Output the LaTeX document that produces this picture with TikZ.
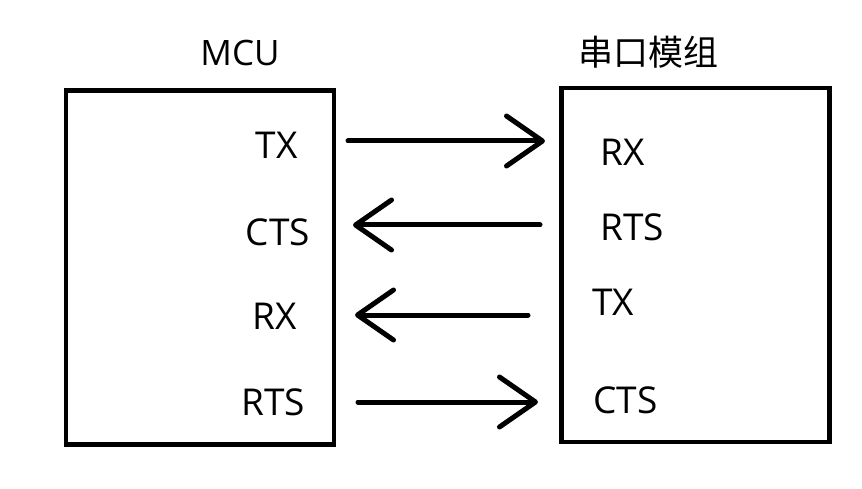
\documentclass[tikz,border=0pt]{standalone}
\usepackage{fontspec}
\setmainfont{Open Sans}
\newfontfamily\cjk{Noto Sans CJK SC}
\usetikzlibrary{arrows.meta}

\begin{document}
\begin{tikzpicture}[x=1pt, y=-1pt,
  chip/.style={draw, line width=4.5pt, minimum width=268pt,
    minimum height=354pt, inner sep=0pt},
  title/.style={font=\fontsize{35}{40}\selectfont, inner sep=0pt},
  pin/.style={font=\fontsize{37}{42}\selectfont, inner sep=0pt},
  sig/.style={line width=5pt, line cap=round,
    -{Straight Barb[length=36pt, width=50pt, line cap=round, line join=round]}}
]
  \useasboundingbox (0,0) rectangle (862,489);
  \node[chip] (mcu) at (200, 267.5) {};
  \node[chip] (uart) at (695.5, 265) {};
  \node[title] (mcutitle) at (240, 53) {MCU};
  \node[title] (uarttitle) at (648, 52) {\cjk\fontsize{35}{40}\selectfont 串口模组};
  \node[pin, anchor=east] (mtx) at (298, 145) {TX};
  \node[pin, anchor=east] (mcts) at (310, 232) {CTS};
  \node[pin, anchor=east] (mrx) at (297, 316) {RX};
  \node[pin, anchor=east] (mrts) at (305, 402) {RTS};
  \node[pin, anchor=west] (urx) at (600, 152) {RX};
  \node[pin, anchor=west] (urts) at (600, 227) {RTS};
  \node[pin, anchor=west] (utx) at (592, 302) {TX};
  \node[pin, anchor=west] (ucts) at (593, 400) {CTS};
  \coordinate (a1) at (348, 141);
  \coordinate (b1) at (545, 141);
  \coordinate (a2) at (540, 225);
  \coordinate (b2) at (353, 225);
  \coordinate (a3) at (528, 315);
  \coordinate (b3) at (355, 315);
  \coordinate (a4) at (358, 402);
  \coordinate (b4) at (538, 402);
  \draw[sig] (a1) -- (b1);
  \draw[sig] (a2) -- (b2);
  \draw[sig] (a3) -- (b3);
  \draw[sig] (a4) -- (b4);
\end{tikzpicture}
\end{document}
